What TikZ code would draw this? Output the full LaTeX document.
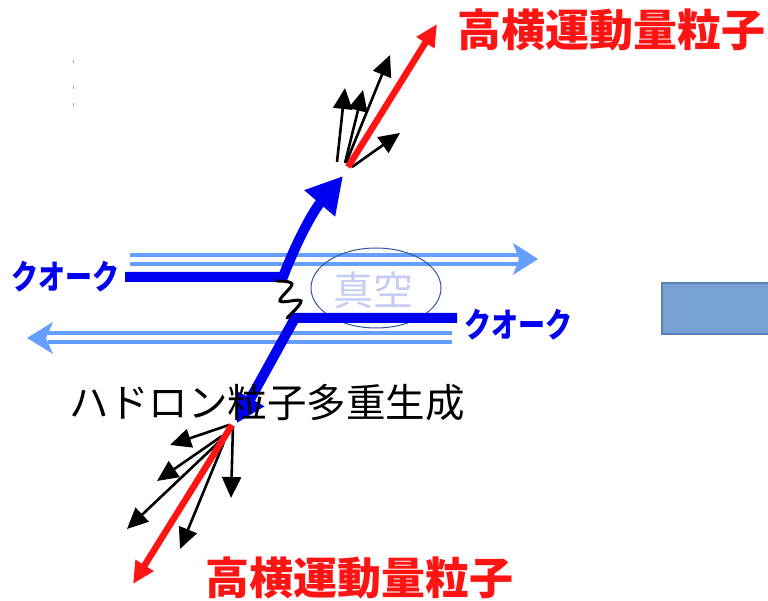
\documentclass[tikz,border=0pt]{standalone}
\usepackage{fontspec}
\usepackage{graphicx}
\newfontfamily\cjk{Noto Sans CJK JP}
\usetikzlibrary{arrows.meta,shapes.geometric}
\definecolor{lblue}{RGB}{100,158,255}
\definecolor{qblue}{RGB}{0,0,240}
\definecolor{hred}{RGB}{255,20,20}
\definecolor{vac}{RGB}{198,204,244}
\definecolor{ellc}{RGB}{50,85,160}
\definecolor{boxf}{RGB}{120,162,212}
\definecolor{boxd}{RGB}{90,128,185}
\tikzset{
  jet/.style={hred,line width=6.5pt,-{Triangle[length=22pt,width=20pt]}},
  frag/.style={black,line width=2.6pt,-{Triangle[length=21pt,width=19pt]}},
  quark/.style={qblue,line width=10pt,line join=miter},
  beam/.style={lblue,line width=3.5pt},
  beamhead/.style={fill=lblue,draw=none},
  lbl/.style={inner sep=0pt,font=\cjk},
}
\begin{document}
\begin{tikzpicture}[x=1pt,y=-1pt]
\useasboundingbox (0,0) rectangle (768,601);
\fill[white] (0,0) rectangle (768,601);
% tiny marks
\foreach \yy in {62,88,105} \draw[gray!70,line width=1pt] (73,\yy-1.5) -- (73,\yy+1.5);
% beams
\draw[beam] (130,255) -- (518,255);
\draw[beam] (130,264) -- (518,264);
\coordinate (bhR) at (538,259);
\fill[beamhead] (bhR) -- (513,243) -- (519,259) -- (513,275) -- cycle;
\draw[beam] (452,333) -- (48,333);
\draw[beam] (452,342) -- (48,342);
\coordinate (bhL) at (27,338);
\fill[beamhead] (bhL) -- (53,322) -- (46,338) -- (53,354) -- cycle;
% vacuum ellipse
\node[lbl,text=vac,font=\cjk\fontsize{40}{44}\selectfont] (vac) at (373,290) {真空};
\node[draw=ellc,line width=1pt,ellipse,minimum width=130pt,minimum height=80pt] (ell) at (376,288) {};
% quark lines
\coordinate (qa1) at (125,277);
\coordinate (qa2) at (283,277);
\coordinate (qa3) at (343,176);
\draw[quark,-{Triangle[length=36pt,width=38pt]}] (qa1) -- (qa2) .. controls (298,238) and (314,210) .. (qa3);
\coordinate (qb1) at (457,318);
\coordinate (qb2) at (295,318);
\coordinate (qb3) at (237,423);
\draw[quark,-{Triangle[length=28pt,width=30pt]}] (qb1) -- (qb2) -- (qb3);
% gluon string
\draw[black,line width=3pt,line cap=round] plot[smooth,tension=0.6] coordinates {(276,281) (292,284) (280,301) (301,301) (287,318)};
% top jet
\coordinate (o1) at (348,167);
\draw[frag] (337,162) -- (345,88);
\draw[frag] (345,163) -- (363,90);
\draw[frag] (346,163) -- (390,55);
\draw[frag] (352,167) -- (400,133);
\draw[jet] (o1) -- (437,24);
% bottom jet
\coordinate (o2) at (232,425);
\draw[frag] (229,425) -- (170,445);
\draw[frag] (222,436) -- (157,481);
\draw[frag] (221,440) -- (127,529);
\draw[frag] (233,426) -- (231,498);
\draw[frag] (224,442) -- (180,549);
\draw[jet] (o2) -- (133,584);
% labels
\node[lbl,text=qblue,font=\cjk\bfseries\fontsize{27}{30}\selectfont] (ql) at (66,277) {\scalebox{1}[1.25]{クオーク}};
\node[lbl,text=qblue,font=\cjk\bfseries\fontsize{27}{30}\selectfont] (qr) at (518,325) {\scalebox{1}[1.25]{クオーク}};
\node[lbl,font=\cjk\fontsize{39.5}{44}\selectfont] (had) at (267,403) {ハドロン粒子多重生成};
\node[lbl,text=hred,font=\cjk\bfseries\fontsize{44}{48}\selectfont] (ht) at (611,30) {高横運動量粒子};
\node[lbl,text=hred,font=\cjk\bfseries\fontsize{44}{48}\selectfont] (hb) at (359,578) {高横運動量粒子};
% box
\draw[boxd,fill=boxf,line width=1.2pt] (662,283) rectangle (775,334);
\end{tikzpicture}
\end{document}
